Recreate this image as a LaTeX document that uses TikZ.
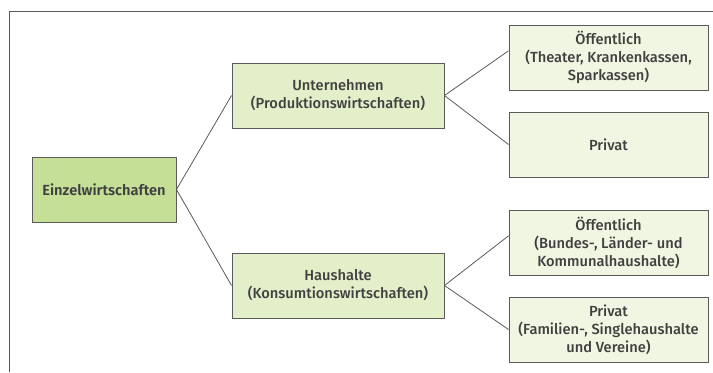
\documentclass[tikz,border=0pt]{standalone}
\usepackage{fontspec}
\setmainfont{Fira Sans}[UprightFont=* Medium, BoldFont=* SemiBold]
\definecolor{einzelgreen}{HTML}{C5DF96}
\definecolor{midgreen}{HTML}{E3EFC9}
\definecolor{palegreen}{HTML}{F1F6E3}
\definecolor{boxline}{HTML}{5A5A5A}
\definecolor{txtgray}{HTML}{404040}
\begin{document}
\begin{tikzpicture}[x=0.75pt, y=-0.75pt,
    box/.style={draw=boxline, line width=0.7pt, align=center, text=txtgray,
        font=\fontsize{11}{13.5}\selectfont, minimum height=48.75pt, inner sep=2pt},
    rootbox/.style={box, fill=einzelgreen, minimum width=108pt, font=\fontsize{11}{13.5}\selectfont\bfseries},
    midbox/.style={box, fill=midgreen, minimum width=159pt},
    leafbox/.style={box, fill=palegreen, minimum width=149.25pt},
    link/.style={draw=boxline, line width=0.6pt}]
        \useasboundingbox (0,0) rectangle (713,372);
        % ---- frame ----
        \draw[boxline, line width=0.7pt] (9,372) -- (9,11) -- (713,11);
        % ---- root ----
        \node[rootbox] (einzel) at (104,189.5) {Einzelwirtschaften};
        % ---- second level ----
        \node[midbox] (unternehmen) at (338,95.5) {Unternehmen\\(Produktionswirtschaften)};
        \node[midbox] (haushalte) at (338,285.5) {Haushalte\\(Konsumtionswirtschaften)};
        % ---- leaves ----
        \node[leafbox] (oeffU) at (608.5,57.5) {Öffentlich\\(Theater, Krankenkassen,\\Sparkassen)};
        \node[leafbox] (privU) at (608.5,144.5) {Privat};
        \node[leafbox] (oeffH) at (608.5,242.5) {Öffentlich\\(Bundes-, Länder- und\\Kommunalhaushalte)};
        \node[leafbox] (privH) at (608.5,329.5) {Privat\\(Familien-, Singlehaushalte\\und Vereine)};
        % ---- connectors ----
        \draw[link] (einzel.east) -- (unternehmen.west);
        \draw[link] (einzel.east) -- (haushalte.west);
        \draw[link] (unternehmen.east) -- ([yshift=5pt]oeffU.west);
        \draw[link] (unternehmen.east) -- (privU.west);
        \draw[link] (haushalte.east) -- ([yshift=5pt]oeffH.west);
        \draw[link] (haushalte.east) -- (privH.west);
    \end{tikzpicture}
\end{document}
